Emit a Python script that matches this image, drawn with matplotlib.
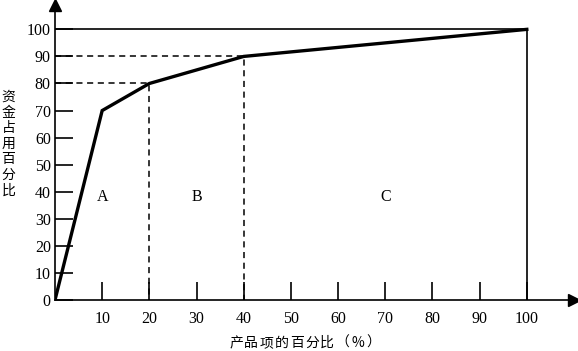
import matplotlib.pyplot as plt

# ABC analysis curve
x_pct = [0, 10, 20, 40, 100]
y_pct = [0, 70, 80, 90, 100]
ticks = [0, 10, 20, 30, 40, 50, 60, 70, 80, 90, 100]
zones = ['A', 'B', 'C']
zone_x = [10, 30, 70]
zone_y = 38
ylabel_chars = '资金占用百分比'
xlabel_chars = '产品项的百分比（%）'

fig = plt.figure(figsize=(5.78, 3.51), dpi=100)
ax = fig.add_axes([55/578, 51/351, 519/578, 295/351])
ax.set_xlim(0, 110)
ax.set_ylim(0, 109)

serif = 'Liberation Serif'
cjk = ['Noto Sans CJK SC', 'DejaVu Sans']

# frame lines
ax.plot([0, 100], [100, 100], color='black', lw=1.2)
ax.plot([100, 100], [0, 100], color='black', lw=1.2)
# dashed guides
ax.plot([0, 20, 20], [80, 80, 0], color='black', lw=1.1, ls=(0, (4, 3)))
ax.plot([0, 40, 40], [90, 90, 0], color='black', lw=1.1, ls=(0, (4, 3)))

# the curve
ax.plot(x_pct, y_pct, color='black', lw=2.4, solid_joinstyle='miter')

for z, zx in zip(zones, zone_x):
    ax.text(zx, zone_y, z, family=serif, fontsize=11.5, ha='center', va='center')

for s in ['top', 'right']:
    ax.spines[s].set_visible(False)
for s in ['left', 'bottom']:
    ax.spines[s].set_linewidth(1.2)

ax.set_xticks(ticks[1:])
ax.set_xticklabels([str(t) for t in ticks[1:]], family=serif, fontsize=11.5)
ax.set_yticks(ticks)
ax.set_yticklabels([str(t) for t in ticks], family=serif, fontsize=11.5)
ax.tick_params(direction='in', length=13, width=1.2)
ax.tick_params(axis='x', pad=8)
ax.tick_params(axis='y', pad=3)

# arrows
ax.plot(1, 0, '>k', ms=8, transform=ax.transAxes, clip_on=False)
ax.plot(0, 1, '^k', ms=8, transform=ax.transAxes, clip_on=False)

# vertical stacked y label, one character per line
for i, ch in enumerate(ylabel_chars):
    fig.text(8.5/578, 1 - (97 + i*15.6)/351, ch, family=cjk, fontsize=10,
             ha='center', va='center')
# x label, spaced out like the source typesetting
for i, ch in enumerate(xlabel_chars):
    fig.text((236 + i*15.2)/578, 1 - 343/351, ch, family=cjk, fontsize=10,
             ha='center', va='center')

fig.savefig('out.png', dpi=100)
